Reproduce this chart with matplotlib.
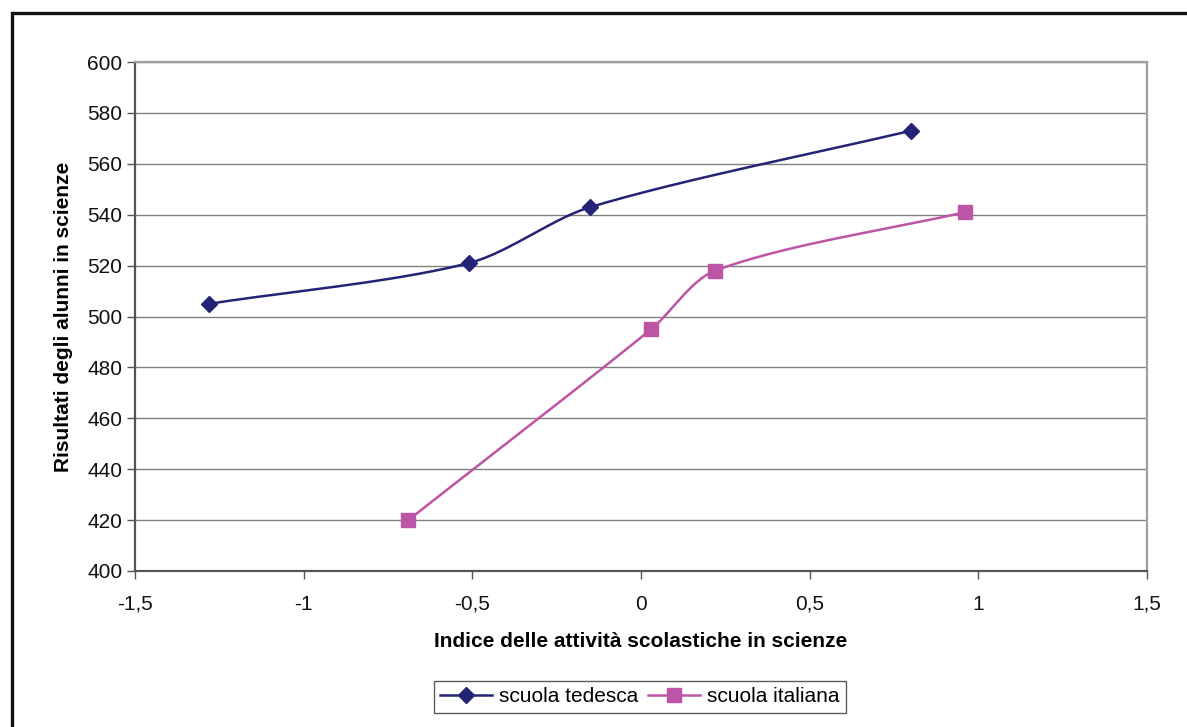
import numpy as np
import matplotlib
matplotlib.use("Agg")
import matplotlib.pyplot as plt
from matplotlib.lines import Line2D
from matplotlib.ticker import FuncFormatter

plt.rcParams['font.family'] = ['Liberation Sans', 'DejaVu Sans']

# Indice delle attività scolastiche (x) e risultati in scienze (y)
tedesca_x = [-1.28, -0.51, -0.15, 0.80]
tedesca_y = [505, 521, 543, 573]
italiana_x = [-0.69, 0.03, 0.22, 0.96]
italiana_y = [420, 495, 518, 541]

series_names = ["scuola tedesca", "scuola italiana"]
x_ticks = [-1.5, -1, -0.5, 0, 0.5, 1, 1.5]
y_ticks = list(range(400, 601, 20))

NAVY = "#232476"
PINK = "#BC55A5"
GRID = "#808080"
FS = 15

# approximate on-screen units per data unit, so smoothing follows the drawn shape
SX, SY = 337.7, 2.545


def smooth(xs, ys, n=50, k=0.3):
    """Bezier smoothing through the points with chord-length scaled tangents."""
    p = np.column_stack([np.asarray(xs) * SX, np.asarray(ys) * SY]).astype(float)
    m = len(p)
    tang = []
    for i in range(m):
        a = p[i - 1] if i > 0 else p[i]
        b = p[i + 1] if i < m - 1 else p[i]
        d = b - a
        tang.append(d / np.linalg.norm(d))
    out = [p[0]]
    for i in range(m - 1):
        p1, p2 = p[i], p[i + 1]
        L = np.linalg.norm(p2 - p1)
        c1 = p1 + tang[i] * L * k
        c2 = p2 - tang[i + 1] * L * k
        t = np.linspace(0, 1, n)[1:, None]
        seg = ((1 - t) ** 3) * p1 + 3 * ((1 - t) ** 2) * t * c1 \
            + 3 * (1 - t) * t ** 2 * c2 + t ** 3 * p2
        out.extend(seg)
    out = np.array(out)
    return out[:, 0] / SX, out[:, 1] / SY


fig = plt.figure(figsize=(11.87, 7.27), dpi=100)
ax = fig.add_axes([135 / 1187, 1 - 571 / 727, (1147 - 135) / 1187, (571 - 62) / 727])

for xs, ys, col, mk, ms in [(tedesca_x, tedesca_y, NAVY, "D", 8.5),
                            (italiana_x, italiana_y, PINK, "s", 10.5)]:
    sx, sy = smooth(xs, ys)
    ax.plot(sx, sy, color=col, lw=1.8, zorder=3)
    ax.plot(xs, ys, ls="none", marker=mk, ms=ms, color=col, mec=col, zorder=4)

ax.set_xlim(-1.5, 1.5)
ax.set_ylim(400, 600)
ax.set_yticks(y_ticks)
ax.set_xticks(x_ticks)


def fmt(v, _):
    s = ("%g" % v).replace(".", ",")
    return "0" if s in ("-0", "0") else s


ax.xaxis.set_major_formatter(FuncFormatter(fmt))
ax.yaxis.grid(True, color=GRID, lw=1.0)
ax.set_axisbelow(True)

for side in ("top", "right"):
    ax.spines[side].set_color("#A0A0A0")
    ax.spines[side].set_linewidth(1.6)
for side in ("left", "bottom"):
    ax.spines[side].set_color("#555555")
    ax.spines[side].set_linewidth(1.6)

ax.tick_params(axis="both", direction="out", length=6, width=1, color="#555555",
               labelsize=FS, labelcolor="#111111")
ax.tick_params(axis="x", pad=11)
ax.tick_params(axis="y", pad=3)

ax.set_xlabel("Indice delle attività scolastiche in scienze", fontsize=FS,
              fontweight="bold", labelpad=13)
ax.set_ylabel("Risultati degli alunni in scienze", fontsize=FS,
              fontweight="bold", labelpad=10)

handles = [
    Line2D([], [], color=NAVY, lw=1.8, marker="D", ms=8.5),
    Line2D([], [], color=PINK, lw=1.8, marker="s", ms=10.5),
]
leg = fig.legend(handles, series_names, loc="center",
                 bbox_to_anchor=(640 / 1187, 1 - 697 / 727), ncol=2,
                 fontsize=FS, frameon=True, fancybox=False, handlelength=2.5,
                 handletextpad=0.35, columnspacing=0.45, borderpad=0.3,
                 borderaxespad=0.0)
leg.get_frame().set_edgecolor("#333333")
leg.get_frame().set_linewidth(1.0)

# Outer frame of the chart
fig.add_artist(Line2D([12 / 1187, 12 / 1187, 1], [0, 1 - 13 / 727, 1 - 13 / 727],
                      transform=fig.transFigure, color="#111111", lw=2.4,
                      solid_joinstyle="miter"))

fig.savefig("out.png", dpi=100, facecolor="white")
